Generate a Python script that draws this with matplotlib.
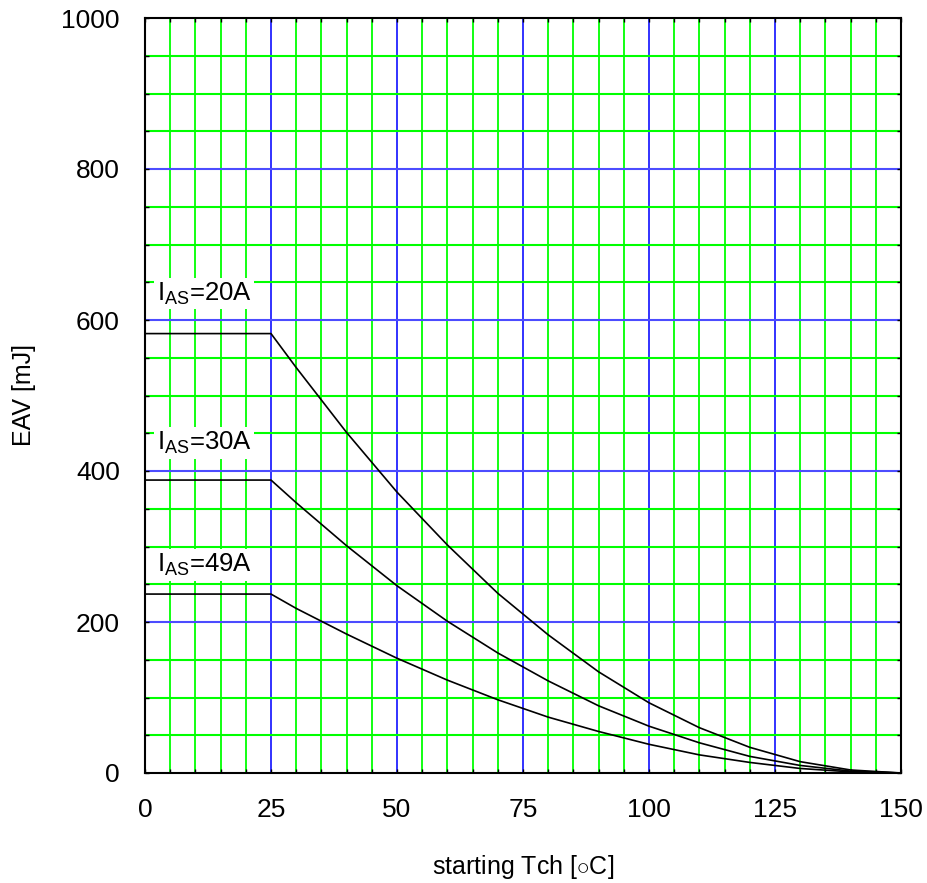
import numpy as np
import matplotlib
matplotlib.use("Agg")
import matplotlib.pyplot as plt

plt.rcParams['font.family'] = ['Liberation Sans', 'DejaVu Sans']
plt.rcParams['mathtext.fontset'] = 'custom'
plt.rcParams['mathtext.rm'] = 'Liberation Sans'
plt.rcParams['mathtext.it'] = 'Liberation Sans'

# starting channel temperature (degC) and avalanche energy (mJ)
tch = [0, 25, 30, 40, 50, 60, 70, 80, 90, 100, 110, 120, 130, 140, 150]
eav_20a = [582, 582, 537, 451, 372, 302, 238, 183, 134, 93, 60, 34, 15, 4, 0]
eav_30a = [388, 388, 358, 301, 248, 201, 159, 122, 89, 62, 40, 22, 10, 2.5, 0]
eav_49a = [237, 237, 218, 184, 152, 123, 97, 74, 55, 38, 24, 14, 6, 1.5, 0]

labels = ["20A", "30A", "49A"]
label_y = [626, 428, 266]

fig = plt.figure(figsize=(9.28, 8.83), dpi=100)
ax = fig.add_axes([145/928, 1 - 773/883, 756/928, 755/883])

# grid: green minor, blue major
for x in np.arange(5, 150, 5):
    c = '#2222ff' if x % 25 == 0 else '#00ff00'
    ax.axvline(x, color=c, lw=1.3, zorder=1)
for y in np.arange(50, 1000, 50):
    c = '#4c4cff' if y % 200 == 0 else '#00ff00'
    ax.axhline(y, color=c, lw=1.5, zorder=1)

for vals in (eav_20a, eav_30a, eav_49a):
    ax.plot(tch, vals, color='black', lw=1.2, zorder=3)

for lab, ly in zip(labels, label_y):
    ax.text(2.3, ly, r"I$_{\mathregular{AS}}$=" + lab, fontsize=18.5,
            va='baseline', ha='left', zorder=4,
            bbox=dict(facecolor='white', edgecolor='none', pad=2))

ax.set_xlim(0, 150)
ax.set_ylim(0, 1000)
ax.set_xticks([0, 25, 50, 75, 100, 125, 150])
ax.set_yticks([0, 200, 400, 600, 800, 1000])
ax.set_xticks(np.arange(0, 151, 5), minor=True)
ax.set_yticks(np.arange(0, 1001, 50), minor=True)
ax.tick_params(which='both', direction='in', top=True, right=True,
               length=3, width=1, labelsize=19)
ax.tick_params(axis='y', which='major', pad=18)
ax.tick_params(axis='x', which='major', pad=18)
for s in ax.spines.values():
    s.set_linewidth(1.5)
    s.set_zorder(5)

ax.set_xlabel(r"starting Tch [$\circ$C]", fontsize=18, labelpad=22)
ax.set_ylabel("EAV [mJ]", fontsize=18, labelpad=18)

fig.savefig("out.png", dpi=100)
